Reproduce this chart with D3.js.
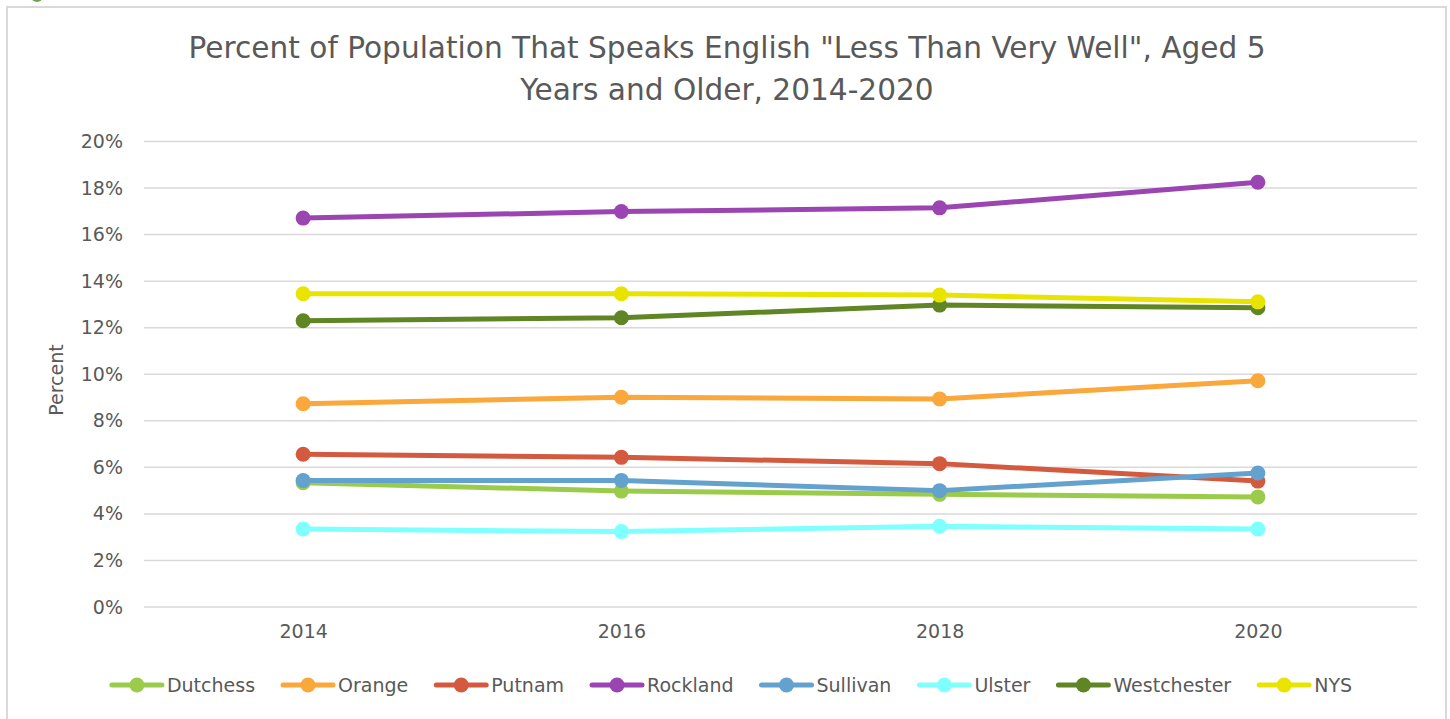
<!DOCTYPE html>
<html>
<head>
<meta charset="utf-8">
<script src="https://cdn.jsdelivr.net/npm/d3@7"></script>
<style>
  body { margin: 0; background: #fff; }
  text { font-family: "Century Gothic", "DejaVu Sans", sans-serif; fill: #595959; }
</style>
</head>
<body>
<div id="chart"></div>
<script>
var years = ["2014", "2016", "2018", "2020"];
var countyNames = ["Dutchess", "Orange", "Putnam", "Rockland", "Sullivan", "Ulster", "Westchester", "NYS"];
var dutchess    = [5.34, 4.98, 4.84, 4.73];
var orange      = [8.73, 9.01, 8.94, 9.72];
var putnam      = [6.56, 6.43, 6.16, 5.41];
var rockland    = [16.71, 16.99, 17.15, 18.25];
var sullivan    = [5.43, 5.44, 5.00, 5.76];
var ulster      = [3.35, 3.24, 3.47, 3.35];
var westchester = [12.30, 12.43, 12.97, 12.86];
var nys         = [13.46, 13.46, 13.40, 13.11];
var yTicks = [0, 2, 4, 6, 8, 10, 12, 14, 16, 18, 20];
var colors = ["#9BCB4B", "#FAA73B", "#D45A3F", "#9A45B1", "#63A1CF", "#80FFFF", "#5F8524", "#E8E400"];

var seriesValues = [dutchess, orange, putnam, rockland, sullivan, ulster, westchester, nys];
var series = countyNames.map(function(n, i){ return {name: n, values: seriesValues[i], color: colors[i]}; });

var W = 1450, H = 719;
var margin = {top: 141.5, right: 33, bottom: 112, left: 144};
var width = W - margin.left - margin.right,
    height = H - margin.top - margin.bottom;

var svg = d3.select("#chart").append("svg")
    .attr("width", W)
    .attr("height", H);

// outer chart border
svg.append("rect")
  .attr("x", 7).attr("y", 7)
  .attr("width", 1439).attr("height", 740)
  .attr("fill", "none")
  .attr("stroke", "#d9d9d9")
  .attr("stroke-width", 2);

// little green corner bit
svg.append("circle").attr("cx", 37).attr("cy", -4).attr("r", 6).attr("fill", "#6aa84f");

// title
var title = svg.append("text")
  .attr("text-anchor", "middle")
  .style("font-size", "29.6px");
title.append("tspan").attr("x", 727).attr("y", 58)
  .text('Percent of Population That Speaks English "Less Than Very Well", Aged 5');
title.append("tspan").attr("x", 727).attr("y", 100)
  .text("Years and Older, 2014-2020");

var g = svg.append("g")
  .attr("transform", "translate(" + margin.left + "," + margin.top + ")");

var xscale = d3.scalePoint().domain(years).range([0, width]).padding(0.5);
var yscale = d3.scaleLinear().domain([0, 20]).range([height, 0]);

// gridlines
g.selectAll(".grid").data(yTicks).enter().append("line")
  .attr("x1", 0).attr("x2", width)
  .attr("y1", function(d){ return yscale(d); })
  .attr("y2", function(d){ return yscale(d); })
  .attr("stroke", "#d9d9d9")
  .attr("stroke-width", 1.5);

// Y axis
var yaxis = d3.axisLeft(yscale).tickValues(yTicks)
  .tickSize(0).tickPadding(21)
  .tickFormat(function(d){ return d + "%"; });
var ya = g.append("g").call(yaxis);
ya.select(".domain").remove();
ya.selectAll("text").style("font-size", "19px").style("font-family", null).attr("fill", "#595959");

// X axis
var xaxis = d3.axisBottom(xscale).tickSize(0).tickPadding(18);
var xa = g.append("g").attr("transform", "translate(0," + height + ")").call(xaxis);
xa.select(".domain").remove();
xa.selectAll("text").style("font-size", "19px").style("font-family", null).attr("fill", "#595959");

// Y label
svg.append("text")
  .attr("transform", "translate(63,380) rotate(-90)")
  .attr("text-anchor", "middle")
  .style("font-size", "19px")
  .text("Percent");

// lines
var line = d3.line()
  .x(function(d, i){ return xscale(years[i]); })
  .y(function(d){ return yscale(d); });

series.forEach(function(s){
  g.append("path")
    .datum(s.values)
    .attr("d", line)
    .attr("fill", "none")
    .attr("stroke", s.color)
    .attr("stroke-width", 5)
    .attr("stroke-linejoin", "round");
  g.selectAll(null).data(s.values).enter().append("circle")
    .attr("cx", function(d, i){ return xscale(years[i]); })
    .attr("cy", function(d){ return yscale(d); })
    .attr("r", 7.5)
    .attr("fill", s.color);
});

// legend
var symW = 54;
var legend = svg.append("g").attr("transform", "translate(0,685)");
var items = legend.selectAll(".item").data(series).enter().append("g");
items.append("line")
  .attr("x1", 2).attr("x2", symW - 2).attr("y1", 0).attr("y2", 0)
  .attr("stroke", function(d){ return d.color; })
  .attr("stroke-width", 5).attr("stroke-linecap", "round");
items.append("circle").attr("cx", symW / 2).attr("r", 7.5)
  .attr("fill", function(d){ return d.color; });
items.append("text")
  .attr("x", symW + 3).attr("y", 7)
  .style("font-size", "19px")
  .text(function(d){ return d.name; });

var widths = [];
items.each(function(){ widths.push(d3.select(this).select("text").node().getComputedTextLength() + symW + 3); });
var gap = 26;
var total = d3.sum(widths) + gap * (widths.length - 1);
var x0 = 731 - total / 2;
items.attr("transform", function(d, i){
  var x = x0 + d3.sum(widths.slice(0, i)) + gap * i;
  return "translate(" + x + ",0)";
});
</script>
</body>
</html>
